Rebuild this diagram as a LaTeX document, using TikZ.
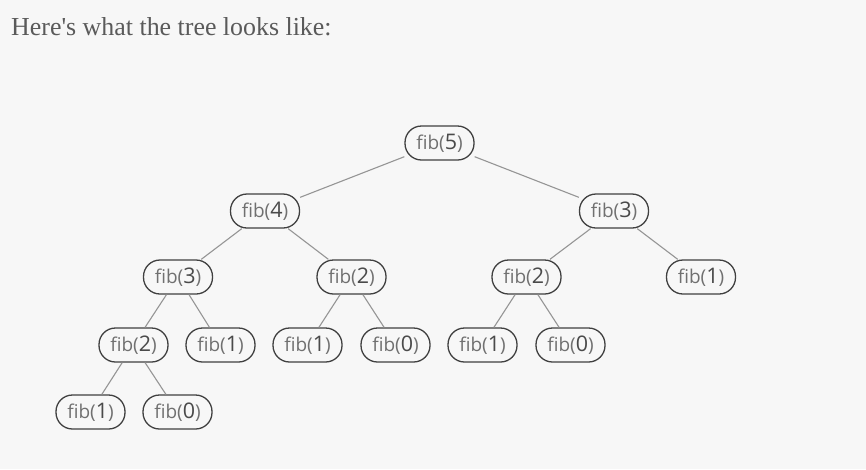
\documentclass[tikz,border=0pt]{standalone}
\usepackage{fontspec}
\setmainfont{Liberation Serif}
\newfontfamily\titlefont{Liberation Serif}
\newfontfamily\nodefont{Open Sans}
\definecolor{bg}{HTML}{F7F7F7}
\definecolor{titlegray}{HTML}{5A5A5A}
\definecolor{boxline}{HTML}{404040}
\definecolor{edgegray}{HTML}{959595}
\definecolor{fibtext}{HTML}{707070}
\definecolor{digittext}{HTML}{4A4A4A}
\newcommand{\fibof}[1]{{\fontsize{19}{22}\selectfont fib(}{\color{digittext}\fontsize{21.5}{22}\selectfont #1}{\fontsize{19}{22}\selectfont )}}
\tikzset{
  fibnode/.style={draw=boxline, line width=1.3pt, fill=bg, rounded corners=16.5pt,
    minimum width=69pt, minimum height=34pt, inner sep=0pt, text=fibtext, font=\nodefont},
  treeedge/.style={draw=edgegray, line width=1.1pt},
}
\begin{document}
\begin{tikzpicture}[x=1pt,y=-1pt]
\fill[bg] (0,0) rectangle (866,469);
\useasboundingbox (0,0) rectangle (866,469);
\node[anchor=base west, inner sep=0pt, text=titlegray, font=\titlefont\fontsize{25.9}{30}\selectfont] (title) at (11,35) {Here's what the tree looks like:};
\node[fibnode] (n5) at (439.5,143) {\fibof{5}};
\node[fibnode] (n4) at (265,211) {\fibof{4}};
\node[fibnode] (n3r) at (614,211) {\fibof{3}};
\node[fibnode] (n3l) at (178,277) {\fibof{3}};
\node[fibnode] (n2m) at (351.5,277) {\fibof{2}};
\node[fibnode] (n2r) at (526.5,277) {\fibof{2}};
\node[fibnode] (n1r) at (701,277) {\fibof{1}};
\node[fibnode] (n2l) at (133.5,345) {\fibof{2}};
\node[fibnode] (n1a) at (220.5,345) {\fibof{1}};
\node[fibnode] (n1b) at (307.5,345) {\fibof{1}};
\node[fibnode] (n0b) at (395.5,345) {\fibof{0}};
\node[fibnode] (n1c) at (482.5,345) {\fibof{1}};
\node[fibnode] (n0c) at (570.5,345) {\fibof{0}};
\node[fibnode] (n1d) at (90.5,412) {\fibof{1}};
\node[fibnode] (n0d) at (177.5,412) {\fibof{0}};
\draw[treeedge] (n5) -- (n4);
\draw[treeedge] (n5) -- (n3r);
\draw[treeedge] (n4) -- (n3l);
\draw[treeedge] (n4) -- (n2m);
\draw[treeedge] (n3r) -- (n2r);
\draw[treeedge] (n3r) -- (n1r);
\draw[treeedge] (n3l) -- (n2l);
\draw[treeedge] (n3l) -- (n1a);
\draw[treeedge] (n2m) -- (n1b);
\draw[treeedge] (n2m) -- (n0b);
\draw[treeedge] (n2r) -- (n1c);
\draw[treeedge] (n2r) -- (n0c);
\draw[treeedge] (n2l) -- (n1d);
\draw[treeedge] (n2l) -- (n0d);
\end{tikzpicture}
\end{document}
